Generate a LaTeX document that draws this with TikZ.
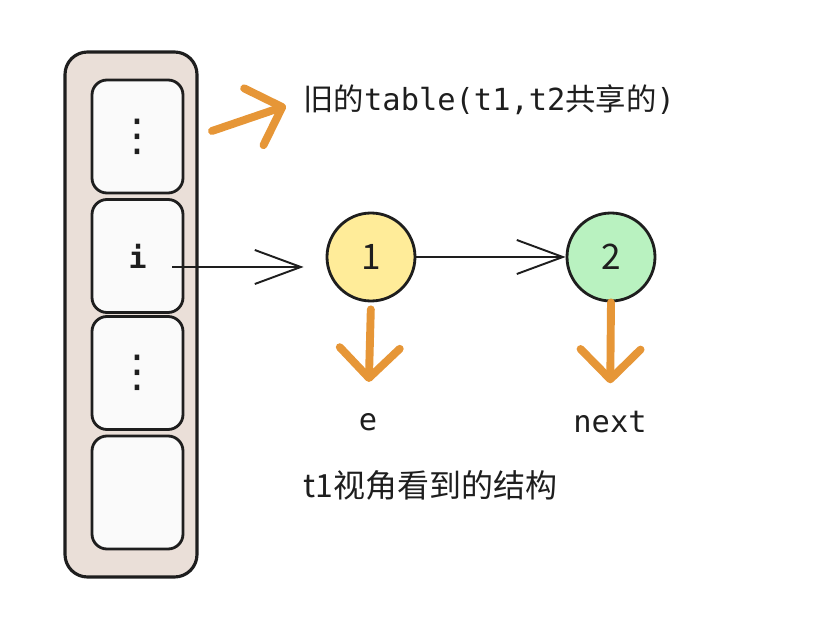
\documentclass[tikz,border=0pt]{standalone}
\usepackage{fontspec}
\setmonofont{DejaVu Sans Mono}
\newfontfamily\cjk{Noto Sans CJK SC}
\newfontfamily\dotsfont{DejaVu Sans}
\usetikzlibrary{arrows.meta}
\definecolor{tablebg}{RGB}{234,223,216}
\definecolor{cellbg}{RGB}{250,250,250}
\definecolor{nodeyellow}{RGB}{255,236,153}
\definecolor{nodegreen}{RGB}{185,242,192}
\definecolor{sketchorange}{RGB}{230,150,55}
\definecolor{ink}{RGB}{30,30,30}

\begin{document}
\begin{tikzpicture}[
    tablebox/.style={draw=ink, line width=1.8pt, rounded corners=0.45cm, fill=tablebg, minimum width=2.64cm, minimum height=10.5cm},
    slot/.style={draw=ink, line width=1.6pt, rounded corners=0.3cm, fill=cellbg, minimum width=1.82cm, minimum height=2.26cm, font=\fontsize{17}{20}\selectfont\ttfamily\bfseries, text=ink},
    entry/.style={circle, draw=ink, line width=1.6pt, minimum size=1.76cm, font=\fontsize{20}{24}\selectfont\cjk, text=ink},
    pointer/.style={draw=ink, line width=1.1pt, -{Straight Barb[length=0.92cm, width=0.68cm]}},
    hint/.style={draw=sketchorange, line width=4.5pt, line cap=round, -{Straight Barb[round, length=0.6cm, width=1.2cm]}},
    caption/.style={inner sep=0pt, font=\fontsize{17.3}{20}\selectfont\ttfamily, text=ink}
  ]
    \useasboundingbox (0,0) rectangle (16.36,12.84);

    % Hash table
    \node[tablebox] (table) at (2.62,6.55) {};
    \node[slot] (cell1) at (2.75,10.11) {\dotsfont\mdseries\fontsize{25}{28}\selectfont ⋮};
    \node[slot] (cell2) at (2.75,7.72) {i};
    \node[slot] (cell3) at (2.75,5.38) {\dotsfont\mdseries\fontsize{25}{28}\selectfont ⋮};
    \node[slot] (cell4) at (2.75,2.99) {};

    % Linked list
    \node[entry, fill=nodeyellow] (n1) at (7.42,7.70) {1};
    \node[entry, fill=nodegreen] (n2) at (12.22,7.70) {2};

    % Labels
    \node[caption, anchor=west] (oldtbl) at (6.06,10.84) {{\cjk 旧的}table(t1,t2{\cjk 共享的})};
    \node[caption] (lblE) at (7.36,4.40) {e};
    \node[caption] (lblNext) at (12.2,4.40) {next};
    \node[caption, anchor=west, font=\fontsize{18.2}{21}\selectfont\cjk] (view) at (6.06,3.14) {t1视角看到的结构};

    % Pointers
    \coordinate (ptr) at (3.44,7.50);
    \draw[pointer, shorten >=0.44cm] (ptr) -- (n1.west |- ptr);
    \draw[pointer] (n1.east) -- (n2.west);

    % Orange hints
    \coordinate (tailA) at (4.24,10.22);
    \draw[hint, shorten >=0.36cm] (tailA) -- (oldtbl.west);
    \draw[hint, shorten <=0.14cm, shorten >=0.62cm] (n1.south) -- (lblE.north);
    \draw[hint, shorten >=0.55cm] (n2.south) -- (lblNext.north);
  \end{tikzpicture}
\end{document}
